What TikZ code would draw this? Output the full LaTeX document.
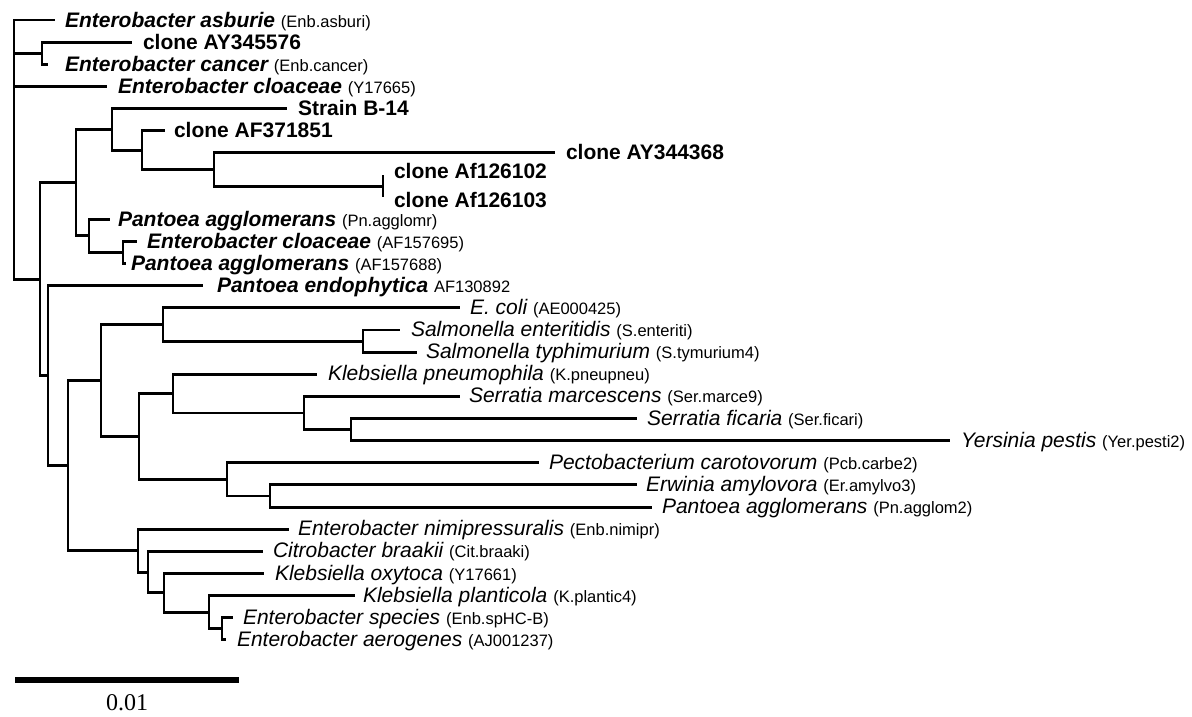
\documentclass[tikz,border=0pt]{standalone}
\usepackage{fontspec}
\setmainfont{Liberation Sans}
\newfontfamily\scalefont{Liberation Serif}
\newcommand{\nmbi}{\fontsize{21}{24}\selectfont\bfseries\itshape}
\newcommand{\nmb}{\fontsize{21}{24}\selectfont\bfseries\upshape}
\newcommand{\nmit}{\fontsize{21}{24}\selectfont\mdseries\itshape}
\newcommand{\nmcd}{\fontsize{16.5}{18}\selectfont\mdseries\upshape}
\begin{document}
\begin{tikzpicture}[x=1pt,y=-1pt,
  br/.style={line width=2.9pt},
  lab/.style={anchor=base west, inner sep=0pt, outer sep=0pt}]
\useasboundingbox[fill=white] (0,0) rectangle (1192,716);
% leaf tips
\coordinate (t1) at (55,20);
\coordinate (t2) at (132,42.1);
\coordinate (t3) at (48,64.3);
\coordinate (t4) at (107,86.4);
\coordinate (t5) at (287,108.6);
\coordinate (t6) at (165,130.7);
\coordinate (t7) at (555,152.8);
\coordinate (t8) at (383,175);
\coordinate (t9) at (383,197.1);
\coordinate (t10) at (110,219.3);
\coordinate (t11) at (137,241.4);
\coordinate (t12) at (126,263.5);
\coordinate (t13) at (203,285.7);
\coordinate (t14) at (460,307.8);
\coordinate (t15) at (400,330);
\coordinate (t16) at (417,352.1);
\coordinate (t17) at (317,374.2);
\coordinate (t18) at (460,396.4);
\coordinate (t19) at (637,418.5);
\coordinate (t20) at (950,440.7);
\coordinate (t21) at (539,462.8);
\coordinate (t22) at (637,484.9);
\coordinate (t23) at (652,507.1);
\coordinate (t24) at (289,529.2);
\coordinate (t25) at (263,551.4);
\coordinate (t26) at (264,573.5);
\coordinate (t27) at (355,595.6);
\coordinate (t28) at (233,617.8);
\coordinate (t29) at (226,639.9);
% internal nodes
\coordinate (root) at (14,149.55);
\coordinate (n1) at (42,53.2);
\coordinate (nBig) at (40,279.1);
\coordinate (nA) at (76,182.6);
\coordinate (nA1) at (112,129.3);
\coordinate (nA1b) at (142,150.1);
\coordinate (nA1c) at (214,169.4);
\coordinate (nA1d) at (383,186.05);
\coordinate (nA2) at (89,235.9);
\coordinate (nA2b) at (123,252.45);
\coordinate (nB) at (48,375.6);
\coordinate (nC) at (68,465.6);
\coordinate (nD) at (101,380.5);
\coordinate (nD1) at (163,324.4);
\coordinate (nS) at (363,341.05);
\coordinate (nD2) at (139,436.5);
\coordinate (nK) at (173,393.6);
\coordinate (nSer) at (304,413.0);
\coordinate (nSY) at (351,429.6);
\coordinate (nP) at (227,479.4);
\coordinate (nEr) at (270,496);
\coordinate (nE) at (138,550.7);
\coordinate (nE2) at (148,572.1);
\coordinate (nE3) at (164,592.9);
\coordinate (nE4) at (209,612.2);
\coordinate (nE5) at (222,628.85);
% branches
\foreach \p/\c in {root/t1,root/n1,root/t4,root/nBig,n1/t2,n1/t3,
  nBig/nA,nBig/nB,nA/nA1,nA/nA2,nA1/t5,nA1/nA1b,nA1b/t6,nA1b/nA1c,
  nA1c/t7,nA1c/nA1d,nA1d/t8,nA1d/t9,nA2/t10,nA2/nA2b,nA2b/t11,nA2b/t12,
  nB/t13,nB/nC,nC/nD,nC/nE,nD/nD1,nD/nD2,nD1/t14,nD1/nS,nS/t15,nS/t16,
  nD2/nK,nD2/nP,nK/t17,nK/nSer,nSer/t18,nSer/nSY,nSY/t19,nSY/t20,
  nP/t21,nP/nEr,nEr/t22,nEr/t23,nE/t24,nE/nE2,nE2/t25,nE2/nE3,
  nE3/t26,nE3/nE4,nE4/t27,nE4/nE5,nE5/t28,nE5/t29}
  \draw[br] (\p) |- (\c);
% labels
\node[lab] (l1) at (65,27) {\nmbi Enterobacter asburie \nmcd(Enb.asburi)};
\node[lab] (l2) at (143,49.1) {\nmb clone AY345576};
\node[lab] (l3) at (65,71.3) {\nmbi Enterobacter cancer \nmcd(Enb.cancer)};
\node[lab] (l4) at (118,93.4) {\nmbi Enterobacter cloaceae \nmcd(Y17665)};
\node[lab] (l5) at (298,115.6) {\nmb Strain B-14};
\node[lab] (l6) at (174,137.7) {\nmb clone AF371851};
\node[lab] (l7) at (566,159.8) {\nmb clone AY344368};
\node[lab] (l8) at (394,178) {\nmb clone Af126102};
\node[lab] (l9) at (394,207.5) {\nmb clone Af126103};
\node[lab] (l10) at (118,226.3) {\nmbi Pantoea agglomerans \nmcd(Pn.agglomr)};
\node[lab] (l11) at (147,248.4) {\nmbi Enterobacter cloaceae \nmcd(AF157695)};
\node[lab] (l12) at (131,270.5) {\nmbi Pantoea agglomerans \nmcd(AF157688)};
\node[lab] (l13) at (217,292.7) {\nmbi Pantoea endophytica \nmcd AF130892};
\node[lab] (l14) at (470,314.3) {\nmit E. coli \nmcd(AE000425)};
\node[lab] (l15) at (411,336.5) {\nmit Salmonella enteritidis \nmcd(S.enteriti)};
\node[lab] (l16) at (426,358.6) {\nmit Salmonella typhimurium \nmcd(S.tymurium4)};
\node[lab] (l17) at (328,380.7) {\nmit Klebsiella pneumophila \nmcd(K.pneupneu)};
\node[lab] (l18) at (469,402.9) {\nmit Serratia marcescens \nmcd(Ser.marce9)};
\node[lab] (l19) at (647,425) {\nmit Serratia ficaria \nmcd(Ser.ficari)};
\node[lab] (l20) at (961,447.2) {\nmit Yersinia pestis \nmcd(Yer.pesti2)};
\node[lab] (l21) at (549,469.3) {\nmit Pectobacterium carotovorum \nmcd(Pcb.carbe2)};
\node[lab] (l22) at (646,491.4) {\nmit Erwinia amylovora \nmcd(Er.amylvo3)};
\node[lab] (l23) at (662,513.6) {\nmit Pantoea agglomerans \nmcd(Pn.agglom2)};
\node[lab] (l24) at (298,535.7) {\nmit Enterobacter nimipressuralis \nmcd(Enb.nimipr)};
\node[lab] (l25) at (273,557.9) {\nmit Citrobacter braakii \nmcd(Cit.braaki)};
\node[lab] (l26) at (275,580) {\nmit Klebsiella oxytoca \nmcd(Y17661)};
\node[lab] (l27) at (363,602.1) {\nmit Klebsiella planticola \nmcd(K.plantic4)};
\node[lab] (l28) at (243,624.3) {\nmit Enterobacter species \nmcd(Enb.spHC-B)};
\node[lab] (l29) at (237,646.4) {\nmit Enterobacter aerogenes \nmcd(AJ001237)};
% scale bar
\coordinate (sb1) at (15,680);
\coordinate (sb2) at (239,680);
\draw[line width=5.5pt] (sb1) -- (sb2);
\node[inner sep=0pt, font=\scalefont\fontsize{24}{26}\selectfont] (sbl) at (127,703) {0.01};
\end{tikzpicture}
\end{document}
